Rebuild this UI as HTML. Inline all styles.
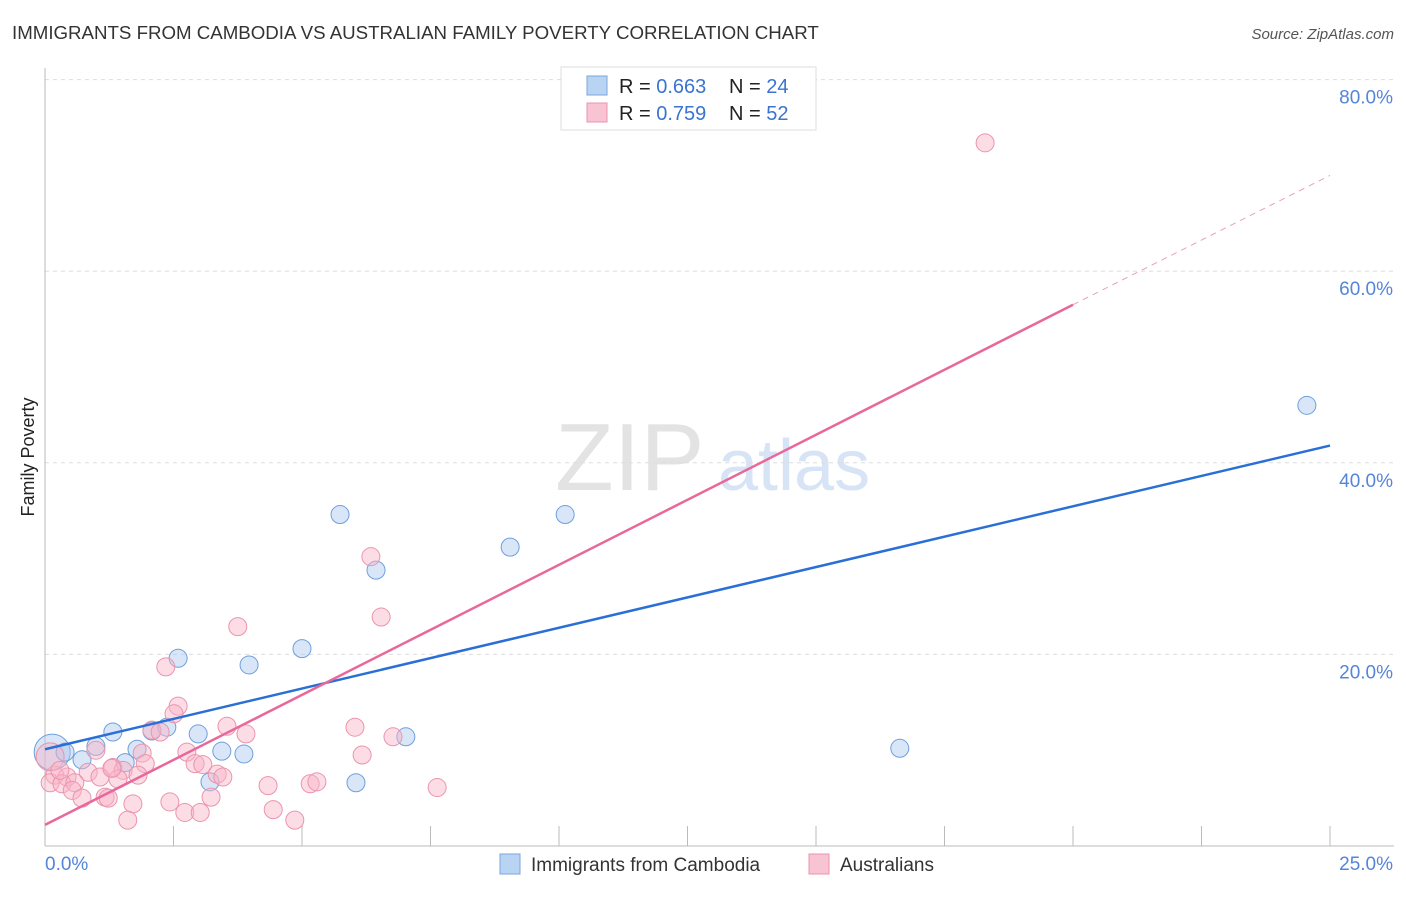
<!DOCTYPE html>
<html><head><meta charset="utf-8"><style>
body{margin:0;background:#fff;font-family:"Liberation Sans",sans-serif;}
svg text{font-family:"Liberation Sans",sans-serif;}
</style></head><body>
<svg id="chart" width="1406" height="892">
<text x="12" y="39" font-size="18.7" fill="#333">IMMIGRANTS FROM CAMBODIA VS AUSTRALIAN FAMILY POVERTY CORRELATION CHART</text>
<text x="1394" y="39" font-size="15" fill="#555" font-style="italic" text-anchor="end">Source: ZipAtlas.com</text>
<text x="34" y="457" font-size="18" fill="#222" transform="rotate(-90 34 457)" text-anchor="middle">Family Poverty</text>
<g><text x="555" y="490" font-size="96" fill="#e3e3e3" font-family="Liberation Serif">ZIP</text><text x="718" y="490" font-size="72" fill="#d6e4f5">atlas</text></g>
<g id="grid"></g><g id="axes"></g><g id="pts"></g><g id="lines"></g>
<g>
<rect x="561" y="67" width="255" height="63" fill="#fff" stroke="#ddd"/>
<rect x="587" y="76" width="20" height="19" fill="#b9d3f3" stroke="#7aa5df"/>
<rect x="587" y="103" width="20" height="19" fill="#f8c4d3" stroke="#eb94ad"/>
<text x="619" y="93" font-size="20" fill="#222">R = <tspan fill="#3b74d0">0.663</tspan></text>
<text x="729" y="93" font-size="20" fill="#222">N = <tspan fill="#3b74d0">24</tspan></text>
<text x="619" y="120" font-size="20" fill="#222">R = <tspan fill="#3b74d0">0.759</tspan></text>
<text x="729" y="120" font-size="20" fill="#222">N = <tspan fill="#3b74d0">52</tspan></text>
</g>
<g>
<rect x="500" y="854" width="20" height="20" fill="#b9d3f3" stroke="#7aa5df"/>
<text x="531" y="871" font-size="19" fill="#333">Immigrants from Cambodia</text>
<rect x="809" y="854" width="20" height="20" fill="#f8c4d3" stroke="#eb94ad"/>
<text x="840" y="871" font-size="19" fill="#333">Australians</text>
</g>
</svg>
<script>
const xTicks=[0,2.5,5,7.5,10,12.5,15,17.5,20,22.5,25];
const yTicks=[20,40,60,80];
const yTickLabels=["20.0%","40.0%","60.0%","80.0%"];
const blueX=[0.14,0.39,0.72,0.99,1.32,1.56,1.79,2.08,2.37,2.59,2.98,3.21,3.44,3.87,3.97,5.0,5.74,6.05,6.44,7.02,9.05,10.12,16.63,24.55];
const blueY=[9.8,9.8,9.0,10.4,11.9,8.7,10.1,12.0,12.4,19.6,11.7,6.7,9.9,9.6,18.9,20.6,34.6,6.6,28.8,11.4,31.2,34.6,10.2,46.0];
const pinkX=[3.75,2.35,2.59,2.51,2.08,2.24,3.54,3.91,6.03,6.77,0.99,2.76,6.17,1.89,1.95,1.32,2.92,3.07,1.52,0.84,3.35,3.46,1.81,1.07,1.42,0.19,0.43,0.10,0.33,0.58,4.34,5.16,5.29,7.63,0.53,0.72,1.17,1.23,3.23,1.71,2.43,4.44,2.72,3.02,1.61,4.86,6.34,6.54,18.29,0.1,0.29,1.30];
const pinkY=[22.9,18.7,14.6,13.8,12.1,11.9,12.5,11.7,12.4,11.4,10.0,9.8,9.5,9.7,8.6,8.2,8.6,8.5,7.9,7.7,7.5,7.2,7.4,7.2,7.0,7.4,7.2,6.6,6.5,6.6,6.3,6.5,6.7,6.1,5.8,5.0,5.1,5.0,5.1,4.4,4.6,3.8,3.5,3.5,2.7,2.7,30.2,23.9,73.4,9.3,7.9,8.1];
const blueLine=[10.1,41.8];
const pinkLine=[2.2,56.5,70];
const sx=v=>45+v*51.4, sy=v=>846-v*9.58;
const NS="http://www.w3.org/2000/svg";
function mk(p,t,a){const e=document.createElementNS(NS,t);for(const k in a)e.setAttribute(k,a[k]);p.appendChild(e);return e;}
const grid=document.getElementById('grid'),axes=document.getElementById('axes'),pts=document.getElementById('pts'),lines=document.getElementById('lines');
yTicks.forEach((v,i)=>{
 const g=mk(grid,'line',{x1:45,x2:1394,y1:sy(v),y2:sy(v),stroke:'#ddd','stroke-dasharray':'4,4'});
 
 
 const t=mk(axes,'text',{x:1393,y:sy(v)+24,'font-size':19,fill:'#5585d8','text-anchor':'end'});
 t.textContent=yTickLabels[i];
 
 
});
const ya=mk(axes,'line',{x1:45,x2:45,y1:68,y2:846,stroke:'#bbb'});


const xa=mk(axes,'line',{x1:45,x2:1394,y1:846,y2:846,stroke:'#bbb'});


xTicks.forEach(v=>{const l=mk(axes,'line',{x1:sx(v),x2:sx(v),y1:826,y2:846,stroke:'#bbb'});
 
 });
const x0=mk(axes,'text',{x:45,y:870,'font-size':19,fill:'#5585d8'});x0.textContent='0.0%';


const x1=mk(axes,'text',{x:1393,y:870,'font-size':19,fill:'#5585d8','text-anchor':'end'});x1.textContent='25.0%';


blueX.forEach((v,i)=>{const c=mk(pts,'circle',{cx:sx(v),cy:sy(blueY[i]),r:(i==0?18:9),fill:'rgba(170,200,240,0.45)',stroke:'#6f9fdd','stroke-width':1});
 
 });
pinkX.forEach((v,i)=>{const c=mk(pts,'circle',{cx:sx(v),cy:sy(pinkY[i]),r:(i==49?14:9),fill:'rgba(248,180,200,0.45)',stroke:'#eb94ad','stroke-width':1});
 
 });
const bl=mk(lines,'line',{x1:sx(0),y1:sy(blueLine[0]),x2:sx(25),y2:sy(blueLine[1]),stroke:'#2a6fd6','stroke-width':2.5});


const pl=mk(lines,'line',{x1:sx(0),y1:sy(pinkLine[0]),x2:sx(20),y2:sy(pinkLine[1]),stroke:'#e8689a','stroke-width':2.5});


const pd=mk(lines,'line',{x1:sx(20),y1:sy(pinkLine[1]),x2:sx(25),y2:sy(pinkLine[2]),stroke:'#e8a0b8','stroke-width':1,'stroke-dasharray':'6,5'});


</script>
</body></html>
